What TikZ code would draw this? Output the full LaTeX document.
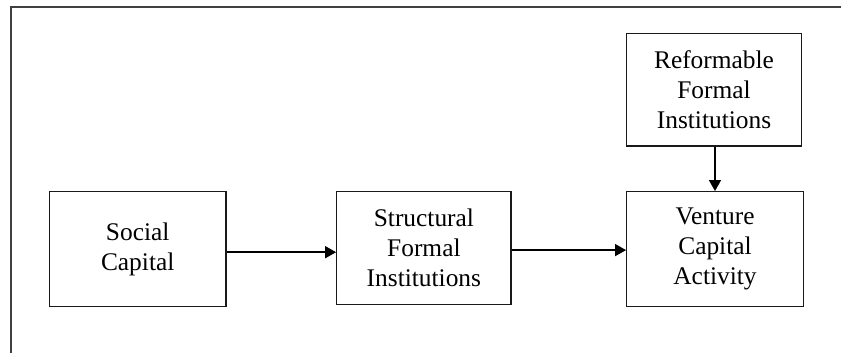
\documentclass[tikz,border=0pt]{standalone}
\usepackage{fontspec}
\setmainfont{Liberation Serif}
\usetikzlibrary{arrows.meta}
\begin{document}
\begin{tikzpicture}[x=1pt,y=-1pt,
  box/.style={draw=black!90,line width=1.3pt,rectangle,align=center,
    font=\fontsize{25.4}{30}\selectfont,inner sep=0pt},
  arr/.style={line width=1.5pt,-{Triangle[length=11pt,width=12pt]}}]
\useasboundingbox (0,0) rectangle (841,353);
\draw[line width=1.3pt,black!75] (11,353) -- (11,7) -- (842,7);
\node[box,minimum width=176.7pt,minimum height=115pt] (soc) at (137.7,249.2) {Social\\Capital};
\node[box,minimum width=174.3pt,minimum height=112.6pt] (str) at (423.9,248.1) {Structural\\Formal\\Institutions};
\node[box,minimum width=176.6pt,minimum height=115pt] (vca) at (715,249.2) {Venture\\Capital\\Activity};
\node[box,minimum width=174.6pt,minimum height=112.7pt] (ref) at (714,89.7) {Reformable\\Formal\\Institutions};
\coordinate (a1) at ([yshift=-3pt]soc.east);
\draw[arr] (a1) -- (a1 -| str.west);
\coordinate (a2) at ([yshift=-2pt]str.east);
\draw[arr] (a2) -- (a2 -| vca.west);
\draw[arr] ([xshift=1pt]ref.south) -- ([xshift=1pt]ref.south |- vca.north);
\end{tikzpicture}
\end{document}
